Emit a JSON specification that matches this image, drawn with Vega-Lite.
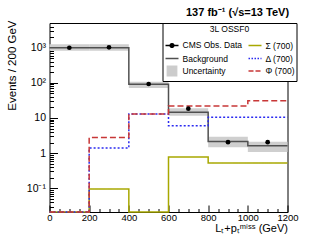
{
  "$schema": "https://vega.github.io/schema/vega-lite/v6.json",
  "width": 238,
  "height": 189,
  "autosize": {"type": "none"},
  "padding": {"left": 49.5, "top": 23, "right": 23.5, "bottom": 36},
  "background": "white",
  "title": {"text": "137 fb⁻¹ (√s=13 TeV)", "anchor": "end", "fontSize": 11, "fontWeight": "bold", "font": "Liberation Sans", "dx": -9, "offset": 2, "color": "black"},
  "datasets": {
    "hist": [
      {"series": "Background", "x": 0, "y": 1000},
      {"series": "Background", "x": 200, "y": 1000},
      {"series": "Background", "x": 400, "y": 92},
      {"series": "Background", "x": 600, "y": 14.5},
      {"series": "Background", "x": 800, "y": 2.15},
      {"series": "Background", "x": 1000, "y": 1.63},
      {"series": "Background", "x": 1200, "y": 1.63},
      {"series": "Σ (700)", "x": 0, "y": 0},
      {"series": "Σ (700)", "x": 200, "y": 0.095},
      {"series": "Σ (700)", "x": 400, "y": 0},
      {"series": "Σ (700)", "x": 600, "y": 0.77},
      {"series": "Σ (700)", "x": 800, "y": 0.52},
      {"series": "Σ (700)", "x": 1000, "y": 0.52},
      {"series": "Σ (700)", "x": 1200, "y": 0.52},
      {"series": "Δ (700)", "x": 0, "y": 0},
      {"series": "Δ (700)", "x": 200, "y": 1.39},
      {"series": "Δ (700)", "x": 400, "y": 13},
      {"series": "Δ (700)", "x": 600, "y": 6.0},
      {"series": "Δ (700)", "x": 800, "y": 10.5},
      {"series": "Δ (700)", "x": 1000, "y": 10.5},
      {"series": "Δ (700)", "x": 1200, "y": 10.5},
      {"series": "Φ (700)", "x": 0, "y": 0},
      {"series": "Φ (700)", "x": 200, "y": 2.8},
      {"series": "Φ (700)", "x": 400, "y": 13},
      {"series": "Φ (700)", "x": 600, "y": 22},
      {"series": "Φ (700)", "x": 800, "y": 22},
      {"series": "Φ (700)", "x": 1000, "y": 31},
      {"series": "Φ (700)", "x": 1200, "y": 31}
    ],
    "band": [
      {"lo": 0, "hi": 200, "ylo": 820, "yhi": 1250},
      {"lo": 200, "hi": 400, "ylo": 820, "yhi": 1250},
      {"lo": 400, "hi": 600, "ylo": 72, "yhi": 108},
      {"lo": 600, "hi": 800, "ylo": 11.6, "yhi": 19},
      {"lo": 800, "hi": 1000, "ylo": 1.46, "yhi": 2.94},
      {"lo": 1000, "hi": 1200, "ylo": 1.07, "yhi": 2.12}
    ],
    "obs": [
      {"x": 100, "y": 1000},
      {"x": 300, "y": 1030},
      {"x": 500, "y": 93},
      {"x": 700, "y": 18.4},
      {"x": 900, "y": 2.05},
      {"x": 1100, "y": 2.05}
    ]
  },
  "layer": [
    {
      "data": {"name": "band"},
      "mark": {"type": "rect", "fill": "#cfcfcf"},
      "encoding": {
        "x": {"field": "lo", "type": "quantitative", "scale": {"domain": [0, 1200], "nice": false, "zero": false},
          "axis": {"orient": "bottom", "values": [0, 200, 400, 600, 800, 1000, 1200], "format": "d", "tickSize": -7, "labelPadding": 7.5, "domain": false, "grid": false,
            "labelFont": "Liberation Sans", "labelFontSize": 9.5, "labelColor": "black", "tickColor": "black", "labelFlush": false, "labelOverlap": false,
            "title": "Lₜ+pₜᵐⁱˢˢ (GeV)", "titleFont": "Liberation Sans", "titleFontSize": 11, "titleFontWeight": "normal", "titleColor": "black",
            "titleAnchor": "end", "titleAlign": "right", "titleX": 238, "titleY": 16.5, "titleBaseline": "middle"}},
        "x2": {"field": "hi"},
        "y": {"field": "ylo", "type": "quantitative", "scale": {"type": "log", "domain": [0.0211, 5060], "nice": false, "clamp": true},
          "axis": {"orient": "left", "values": [0.1, 1, 10, 100, 1000], "tickSize": -8, "labelPadding": 12, "domain": false, "grid": false,
            "labelFont": "Liberation Sans", "labelFontSize": 10.5, "labelColor": "black", "tickColor": "black", "labelFlush": false, "labelOverlap": false,
            "labelExpr": "datum.value >= 999 ? '10³' : datum.value >= 99 ? '10²' : datum.value >= 9 ? '10' : datum.value >= 0.9 ? '1' : '10⁻¹'",
            "title": "Events / 200 GeV", "titleFont": "Liberation Sans", "titleFontSize": 11.5, "titleFontWeight": "normal", "titleColor": "black",
            "titleX": -37.5, "titleY": -3, "titleAlign": "right", "titleBaseline": "middle", "titleAngle": -90}},
        "y2": {"field": "yhi"}
      }
    },
    {
      "data": {"name": "hist"},
      "mark": {"type": "line", "interpolate": "step-after", "strokeWidth": 1.5, "invalid": "show"},
      "encoding": {
        "x": {"field": "x", "type": "quantitative",
          "axis": {"orient": "bottom", "values": [50, 100, 150, 250, 300, 350, 450, 500, 550, 650, 700, 750, 850, 900, 950, 1050, 1100, 1150], "tickSize": -3.5, "labels": false, "domain": false, "grid": false, "title": null, "tickColor": "black"}},
        "y": {"field": "y", "type": "quantitative",
          "axis": {"orient": "left", "values": [0.03, 0.04, 0.05, 0.06, 0.07, 0.08, 0.09, 0.2, 0.3, 0.4, 0.5, 0.6, 0.7, 0.8, 0.9, 2, 3, 4, 5, 6, 7, 8, 9, 20, 30, 40, 50, 60, 70, 80, 90, 200, 300, 400, 500, 600, 700, 800, 900, 2000, 3000, 4000, 5000], "tickSize": -4, "labels": false, "domain": false, "grid": false, "title": null, "tickColor": "black"}},
        "color": {"field": "series", "type": "nominal",
          "scale": {"domain": ["CMS Obs. Data", "Background", "Uncertainty", "Σ (700)", "Δ (700)", "Φ (700)"], "range": ["#000000", "#505050", "#cccccc", "#a8a800", "#2a2af0", "#c83737"]},
          "legend": {
            "orient": "none", "legendX": 113, "legendY": 0, "columns": 2, "title": "3L OSSF0", "titleAnchor": "middle", "titleAlign": "center",
            "titleFont": "Liberation Sans", "titleFontSize": 8.5, "titleFontWeight": "normal", "titleColor": "black", "titlePadding": 4,
            "labelFont": "Liberation Sans", "labelFontSize": 8.5, "labelColor": "black", "labelOffset": 3, "labelLimit": 200,
            "strokeColor": "black", "fillColor": "white", "padding": 2, "rowPadding": 0.5, "columnPadding": 3, "symbolSize": 169, "symbolStrokeWidth": 1.3,
            "encode": {"symbols": {"update": {
              "shape": {"signal": "datum.value === 'Uncertainty' ? 'square' : datum.value === 'CMS Obs. Data' ? 'M-1,0H1M-0.3,0A0.3,0.3,0,1,1,0.3,0A0.3,0.3,0,1,1,-0.3,0Z' : 'stroke'"},
              "fill": {"signal": "datum.value === 'Uncertainty' ? '#cccccc' : datum.value === 'CMS Obs. Data' ? '#000000' : 'transparent'"},
              "stroke": {"signal": "datum.value === 'Uncertainty' ? 'transparent' : datum.value === 'CMS Obs. Data' || datum.value === 'Background' ? '#000000' : datum.value === 'Σ (700)' ? '#a8a800' : datum.value === 'Δ (700)' ? '#2a2af0' : '#c83737'"},
              "strokeDash": {"signal": "datum.value === 'Δ (700)' ? [1.5, 1.5] : datum.value === 'Φ (700)' ? [5, 2] : [1, 0]"},
              "size": {"signal": "datum.value === 'Uncertainty' ? 90 : 169"},
              "opacity": {"value": 1}
            }}}
          }},
        "strokeDash": {"field": "series", "type": "nominal",
          "scale": {"domain": ["Background", "Σ (700)", "Δ (700)", "Φ (700)"], "range": [[1, 0], [1, 0], [2, 2], [6, 3]]},
          "legend": null}
      }
    },
    {
      "data": {"name": "obs"},
      "mark": {"type": "point", "filled": true, "color": "black", "size": 22, "opacity": 1},
      "encoding": {
        "x": {"field": "x", "type": "quantitative", "axis": null},
        "y": {"field": "y", "type": "quantitative", "axis": null}
      }
    }
  ],
  "resolve": {"axis": {"x": "independent", "y": "independent"}},
  "config": {"view": {"stroke": "black", "strokeWidth": 1}}
}
